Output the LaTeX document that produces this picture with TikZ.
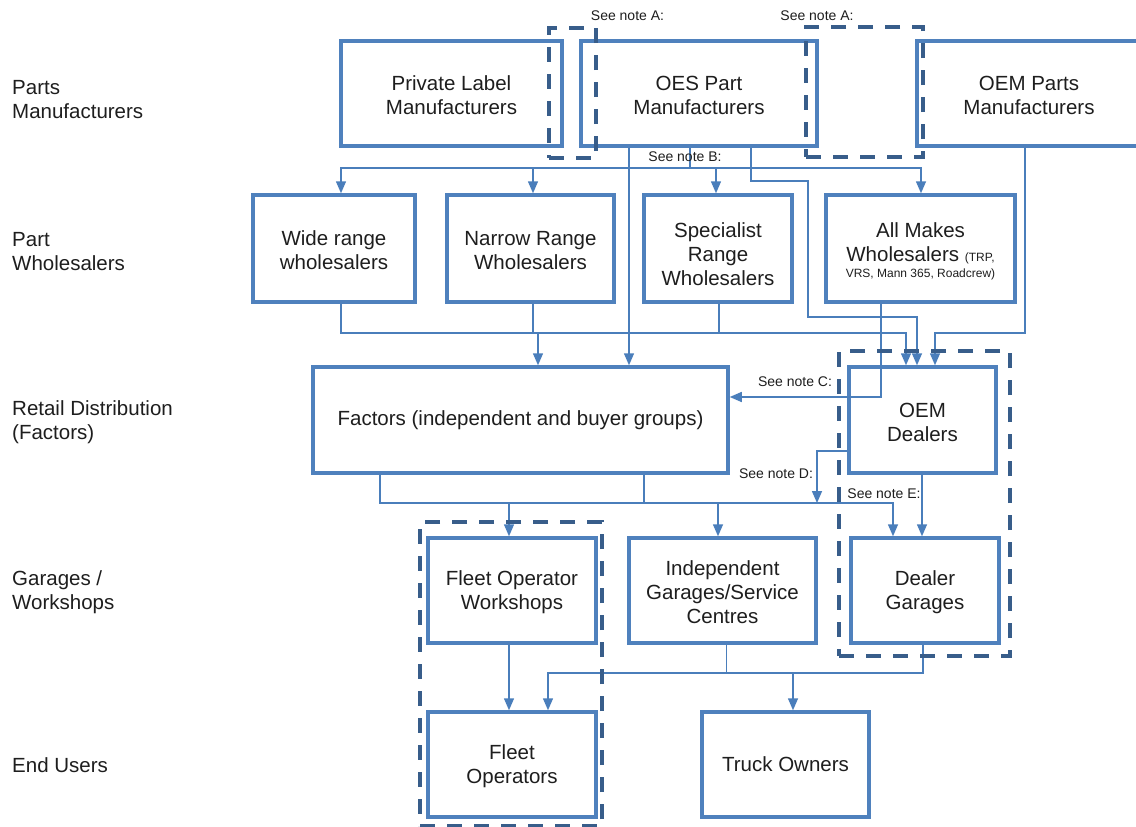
\documentclass[tikz,border=0pt]{standalone}
\usepackage{fontspec}
\setmainfont{Liberation Sans}
\usetikzlibrary{arrows.meta}
\definecolor{boxblue}{HTML}{4F81BD}
\definecolor{grpblue}{HTML}{385D8A}
\definecolor{lineblue}{HTML}{4A7EBB}
\definecolor{txt}{HTML}{1E1E1E}
\begin{document}
\begin{tikzpicture}[x=1pt,y=-1pt,
  box/.style={draw=boxblue, line width=3.5pt, fill=white, inner sep=0pt, align=center, text=txt, font=\fontsize{20.5}{24}\selectfont},
  grp/.style={draw=grpblue, line width=4pt, dash pattern=on 15pt off 12pt, inner sep=0pt},
  conn/.style={draw=lineblue, line width=1.5pt},
  arr/.style={conn, -{Triangle[length=12pt,width=10pt]}},
  note/.style={text=txt, font=\fontsize{14}{16}\selectfont, inner sep=0pt},
  lab/.style={anchor=west, align=left, text=txt, inner sep=0pt, font=\fontsize{20.5}{24}\selectfont}]
\useasboundingbox (0,0) rectangle (1136,827);
\clip (0,0) rectangle (1136,827);
\fill[white] (0,0) rectangle (1136,827);

% left labels
\node[lab] (l1) at (12,100) {Parts\\Manufacturers};
\node[lab] (l2) at (12,252) {Part\\Wholesalers};
\node[lab] (l3) at (12,422) {Retail Distribution\\(Factors)};
\node[lab] (l4) at (12,592) {Garages /\\Workshops};
\node[lab] (l5) at (12,765) {End Users};

% row 1
\node[box, minimum width=221pt, minimum height=105pt] (plm) at (451.5,93.5) {\rule{0pt}{19pt}Private Label\\Manufacturers};
\node[box, minimum width=236pt, minimum height=105pt] (oes) at (699,93.5) {\rule{0pt}{19pt}OES Part\\Manufacturers};
\node[box, minimum width=224pt, minimum height=105pt] (oemp) at (1029,93.5) {\rule{0pt}{19pt}OEM Parts\\Manufacturers};

% row 2
\node[box, minimum width=162pt, minimum height=107pt] (wide) at (334,248.5) {\rule{0pt}{19pt}Wide range\\wholesalers};
\node[box, minimum width=167pt, minimum height=107pt] (narrow) at (530.5,248.5) {\rule{0pt}{19pt}Narrow Range\\Wholesalers};
\node[box, minimum width=148pt, minimum height=107pt] (spec) at (718,248.5) {\rule{0pt}{27pt}Specialist\\Range\\Wholesalers};
\node[box, minimum width=189pt, minimum height=107pt] (allm) at (920.5,248.5) {\rule{0pt}{21pt}All Makes\\Wholesalers {\fontsize{12}{14}\selectfont (TRP,}\\[-8pt]{\fontsize{12}{14}\selectfont VRS, Mann 365, Roadcrew)}};

% row 3
\node[box, minimum width=415pt, minimum height=106pt] (factors) at (520.5,420) {Factors (independent and buyer groups)};
\node[box, minimum width=147pt, minimum height=106pt] (oemd) at (922.5,420) {\rule{0pt}{19pt}OEM\\Dealers};

% row 4
\node[box, minimum width=168pt, minimum height=105pt] (fow) at (512,590.5) {\rule{0pt}{19pt}Fleet Operator\\Workshops};
\node[box, minimum width=187pt, minimum height=105pt] (indep) at (722.5,590.5) {\rule{0pt}{19pt}Independent\\Garages/Service\\Centres};
\node[box, minimum width=148pt, minimum height=105pt] (dealg) at (925,590.5) {\rule{0pt}{19pt}Dealer\\Garages};

% row 5
\node[box, minimum width=168pt, minimum height=105pt] (fleet) at (512,764.5) {\rule{0pt}{19pt}Fleet\\Operators};
\node[box, minimum width=167pt, minimum height=105pt] (truck) at (785.5,764.5) {Truck Owners};

% bus coordinates
\coordinate (bB) at (690,168);
\coordinate (bW) at (906,333);
\coordinate (jN) at (533,333);
\coordinate (jS) at (719,333);
\coordinate (jF) at (538,333);
\coordinate (jD) at (817,503);
\coordinate (jG) at (644,503);
\coordinate (jFW) at (509,503);
\coordinate (jI) at (718,503);
\coordinate (jIn) at (726.5,673);
\coordinate (jT) at (793,673);

% row 1 -> row 2
\draw[conn] (690,0 |- oes.south) -- (bB);
\draw[arr] (bB) -| (wide.north -| 341,0);
\draw[arr] (bB) -| (narrow.north -| 533,0);
\draw[arr] (bB) -| (spec.north -| 716,0);
\draw[arr] (bB) -| (allm.north -| 921,0);

% OES -> Factors
\draw[arr] (629,0 |- oes.south) -- (629,0 |- factors.north);
% OES -> OEM Dealers
\draw[arr] (751,0 |- oes.south) |- (808,181) |- (917,317) -- (917,0 |- oemd.north);
% OEM Parts -> OEM Dealers
\draw[arr] (1025,0 |- oemp.south) |- (935,333) -- (935,0 |- oemd.north);

% row 2 -> row 3
\draw[arr] (341,0 |- wide.south) |- (bW) -- (906,0 |- oemd.north);
\draw[conn] (533,0 |- narrow.south) -- (jN);
\draw[conn] (719,0 |- spec.south) -- (jS);
\draw[arr] (jF) -- (538,0 |- factors.north);
\draw[arr] (881,0 |- allm.south) |- (factors.east |- 0,397);

% row 3 -> row 4
\draw[arr] (oemd.west |- 0,451) -| (jD);
\draw[arr] (380,0 |- factors.south) |- (893,503) -- (893,0 |- dealg.north);
\draw[conn] (644,0 |- factors.south) -- (jG);
\draw[arr] (jFW) -- (509,0 |- fow.north);
\draw[arr] (jI) -- (718,0 |- indep.north);
\draw[arr] (922,0 |- oemd.south) -- (922,0 |- dealg.north);

% row 4 -> row 5
\draw[arr] (509,0 |- fow.south) -- (509,0 |- fleet.north);
\draw[conn] (726.5,0 |- indep.south) -- (jIn);
\draw[arr] (923,0 |- dealg.south) |- (548,673) -- (548,0 |- fleet.north);
\draw[arr] (jT) -- (793,0 |- truck.north);

% dashed groups
\node[grp, minimum width=47pt, minimum height=130pt] (gA1) at (572.5,93) {};
\node[grp, minimum width=117pt, minimum height=130pt] (gA2) at (864.5,92) {};
\node[grp, minimum width=171pt, minimum height=305pt] (gDeal) at (924.5,503.5) {};
\node[grp, minimum width=182pt, minimum height=304pt] (gFleet) at (511,674) {};

% notes
\node[note] (nA1) at (627.5,16) {See note A:};
\node[note] (nA2) at (817,16) {See note A:};
\node[note] (nB) at (685,157) {See note B:};
\node[note] (nC) at (795,382) {See note C:};
\node[note] (nD) at (776,474) {See note D:};
\node[note] (nE) at (884,494) {See note E:};
\end{tikzpicture}
\end{document}
